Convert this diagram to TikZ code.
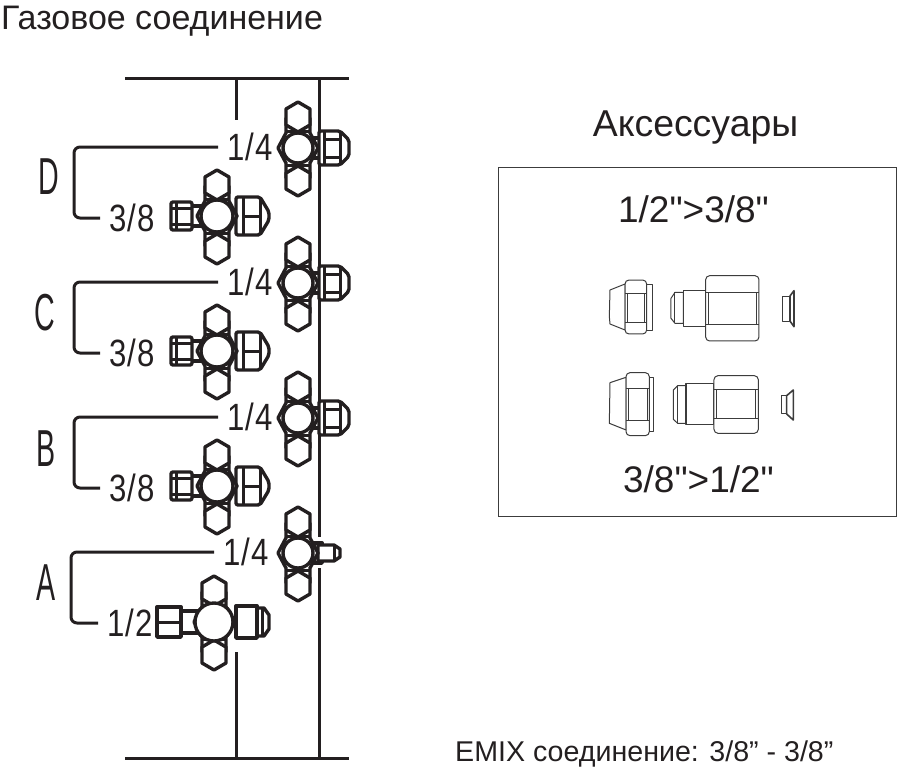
\documentclass[tikz,border=0pt]{standalone}
\usepackage{fontspec}
\setmainfont{Liberation Sans}
\newfontfamily\rawfont{Liberation Sans}
\newfontfamily\cadfont[FakeStretch=0.82,LetterSpace=3]{Liberation Sans}
\newfontfamily\cadtall[FakeStretch=0.55]{Liberation Sans}
\usetikzlibrary{shapes.geometric, positioning}
\definecolor{pipeBlack}{RGB}{35,31,32}
\definecolor{partGray}{RGB}{60,60,60}

\tikzset{
  pipe/.style={draw=pipeBlack, line width=3pt},
  part/.style={draw=pipeBlack, line width=3.4pt, fill=white, line join=round},
  partline/.style={draw=pipeBlack, line width=3pt},
  thinpart/.style={draw=partGray, line width=1pt, fill=white, line join=round},
  thinline/.style={draw=partGray, line width=1pt},
  sizelabel/.style={font=\cadfont\fontsize{38}{40}\selectfont, text=pipeBlack, inner sep=9pt, outer sep=0pt},
  portlabel/.style={font=\cadtall\fontsize{52}{54}\selectfont, text=pipeBlack, inner sep=0pt},
  heading/.style={text=pipeBlack, inner sep=0pt, anchor=base},
  pics/hexcap/.style={code={
    \draw[part] (0,-15) -- (12,-8) -- (12,8) -- (0,15) -- (-12,8) -- (-12,-8) -- cycle;
  }},
  pics/valvecross/.style={code={
    \draw[part] (-20,0) -- (-12,-15) -- (-12,-30) -- (12,-30) -- (12,-15) -- (20,0)
      -- (12,15) -- (12,30) -- (-12,30) -- (-12,15) -- cycle;
    \pic (-top) at (0,-31) {hexcap};
    \pic (-btm) at (0,33) {hexcap};
    \draw[partline] (-11,-17) -- (11,-17) (-11,17) -- (11,17);
    \draw[part] (0,0) circle (#1);
  }},
  pics/valvequarter/.style={code={
    \draw[part] (13,-10) rectangle (24,10);
    \draw[part, rounded corners=2pt] (21,-17) -- (42,-17) -- (51,-8) -- (51,8) -- (42,17) -- (21,17) -- cycle;
    \draw[partline] (26,-17) -- (26,17) (26,-9) -- (42,-9) (26,9) -- (42,9) (42,-17) -- (42,17);
    \pic (-x) {valvecross=15};
  }},
  pics/valvetip/.style={code={
    \draw[part] (14,-10) rectangle (24,10);
    \draw[part] (20,-8) -- (36,-8) -- (42,-4) -- (42,4) -- (36,8) -- (20,8) -- cycle;
    \draw[partline] (36,-8) -- (36,8);
    \pic (-x) {valvecross=15};
  }},
  pics/valveeighth/.style={code={
    \draw[part] (-28,-10) rectangle (-12,10);
    \draw[part, rounded corners=2pt] (-46,-14) rectangle (-25,14);
    \draw[partline] (-46,-8) -- (-25,-8) (-46,8) -- (-25,8) (-41,-14) -- (-41,14);
    \draw[part, rounded corners=2pt] (19,-19) -- (43,-19) -- (52,-4) -- (52,4) -- (43,19) -- (19,19) -- cycle;
    \draw[partline] (26,-19) -- (26,19) (26,0) -- (43,0) (43,-19) -- (43,19);
    \pic (-x) {valvecross=16};
  }},
  pics/valvehalf/.style={code={
    \draw[part] (-35,-11) rectangle (-12,11);
    \draw[part] (-57,-15) rectangle (-33,15);
    \draw[partline] (-57,0) -- (-33,0);
    \draw[part] (40,-14) -- (50,-14) -- (55,-7) -- (55,7) -- (50,14) -- (40,14) -- cycle;
    \draw[partline] (48,-14) -- (48,14);
    \draw[part] (22,-16) rectangle (43,16);
    \pic (-x) {valvecross=19};
  }},
}

\begin{document}
\begin{tikzpicture}[x=1pt, y=-1pt]
  \useasboundingbox (0,0) rectangle (897,769);

  % header rails
  \coordinate (topL) at (125,78);
  \coordinate (topR) at (349,78);
  \coordinate (botL) at (125,758);
  \coordinate (botR) at (349,758);
  \coordinate (railT) at (319,78);
  \coordinate (railB) at (319,758);
  \coordinate (railGapT) at (319,537);
  \coordinate (railGapB) at (319,568);
  \coordinate (stubT) at (236,78);
  \coordinate (stubTe) at (236,120);
  \coordinate (stubB) at (236,758);
  \coordinate (stubBe) at (236,652);
  \draw[pipe] (topL) -- (topR);
  \draw[pipe] (botL) -- (botR);
  \draw[pipe] (railT) -- (railGapT);
  \draw[pipe] (railGapB) -- (railB);
  \draw[pipe] (stubT) -- (stubTe);

  % valves
  \pic (qD) at (298,148) {valvequarter};
  \pic (eD) at (217,216) {valveeighth};
  \pic (qC) at (298,283) {valvequarter};
  \pic (eC) at (217,351) {valveeighth};
  \pic (qB) at (298,418) {valvequarter};
  \pic (eB) at (217,486) {valveeighth};
  \pic (qA) at (298,553) {valvetip};
  \pic (hA) at (214,622) {valvehalf};
  \draw[pipe] (stubB) -- (stubBe);

  % size labels
  \node[sizelabel] (sizeD14) at (250,147) {1/4};
  \node[sizelabel] (sizeD38) at (132,218) {3/8};
  \node[sizelabel] (sizeC14) at (250,282) {1/4};
  \node[sizelabel] (sizeC38) at (132,353) {3/8};
  \node[sizelabel] (sizeB14) at (250,417) {1/4};
  \node[sizelabel] (sizeB38) at (132,488) {3/8};
  \node[sizelabel] (sizeA14) at (246,552) {1/4};
  \node[sizelabel] (sizeA12) at (130,623) {1/2};

  % port letters
  \node[portlabel] (portD) at (49,177) {D};
  \node[portlabel] (portC) at (45,313) {C};
  \node[portlabel] (portB) at (46,449) {B};
  \node[portlabel] (portA) at (46,583) {A};

  % brackets
  \coordinate (brD) at (74,180);
  \coordinate (brC) at (74,315);
  \coordinate (brB) at (74,450);
  \coordinate (brA) at (71,585);
  \draw[pipe, rounded corners=6pt] (sizeD14.west) -| (brD) |- (sizeD38.west);
  \draw[pipe, rounded corners=6pt] (sizeC14.west) -| (brC) |- (sizeC38.west);
  \draw[pipe, rounded corners=6pt] (sizeB14.west) -| (brB) |- (sizeB38.west);
  \draw[pipe, rounded corners=6pt] (sizeA14.west) -| (brA) |- (sizeA12.west);

  % texts
  \node[heading, anchor=base west, font=\fontsize{34}{36}\selectfont] (title) at (1,29) {Газовое соединение};
  \node[heading, font=\fontsize{37.4}{40}\selectfont] (acc) at (695.5,136) {Аксессуары};
  \node[draw=partGray, line width=0.8pt, minimum width=398pt, minimum height=349pt, anchor=north west, inner sep=0pt] (accbox) at (498,167) {};
  \node[heading, font=\rawfont\fontsize{37}{40}\selectfont] (upsize) at (693.5,222) {1/2">3/8"};
  \node[heading, font=\rawfont\fontsize{37}{40}\selectfont] (downsize) at (698.5,492) {3/8">1/2"};
  \node[heading, anchor=base west, font=\fontsize{28.6}{30}\selectfont] (emix) at (455,761) {EMIX соединение: 3/8” - 3/8”};

  % upper adapter set
  \begin{scope}[shift={(590,260)}, x=0.3333pt, y=-0.3333pt]
    \draw[thinpart] (105,72) -- (60,90) -- (58,170) -- (60,192) -- (105,210) -- cycle;
    \draw[thinpart] (170,72) rectangle (188,212);
    \draw[thinpart, rounded corners=4pt] (105,60) rectangle (170,222);
    \draw[thinline] (105,100) -- (170,100) (105,187) -- (170,187) (112,100) -- (112,187) (163,100) -- (163,187);
    \draw[thinpart] (280,97) -- (255,97) -- (243,115) -- (243,175) -- (255,190) -- (280,190) -- cycle;
    \draw[thinline] (255,97) -- (255,190);
    \draw[thinpart, line width=1.6pt] (280,92) rectangle (347,200);
    \draw[thinpart, rounded corners=4pt] (347,47) rectangle (507,243);
    \draw[thinline] (347,97) -- (507,97) (347,193) -- (507,193) (355,97) -- (355,193) (500,97) -- (500,193);
    \draw[thinpart] (577,108) rectangle (600,183);
    \draw[thinpart, line width=1.6pt] (600,108) -- (612,92) -- (612,200) -- (600,183) -- cycle;
  \end{scope}

  % lower adapter set
  \begin{scope}[shift={(590,260)}, x=0.3333pt, y=-0.3333pt]
    \draw[thinpart] (108,352) -- (60,368) -- (58,490) -- (108,510) -- cycle;
    \draw[thinpart] (178,352) rectangle (190,515);
    \draw[thinpart, rounded corners=4pt] (108,338) rectangle (178,527);
    \draw[thinline] (108,387) -- (178,387) (108,483) -- (178,483) (115,387) -- (115,483) (171,387) -- (171,483);
    \draw[thinpart] (288,377) -- (263,377) -- (250,390) -- (250,478) -- (263,490) -- (288,490) -- cycle;
    \draw[thinline] (263,377) -- (263,490);
    \draw[thinpart, line width=1.6pt] (288,370) rectangle (372,493);
    \draw[thinpart, rounded corners=4pt] (372,347) rectangle (505,520);
    \draw[thinline] (372,388) -- (505,388) (372,477) -- (505,477) (380,388) -- (380,477) (498,388) -- (498,477);
    \draw[thinpart] (575,407) rectangle (590,462);
    \draw[thinpart, line width=1.6pt] (590,407) -- (610,390) -- (610,480) -- (590,462) -- cycle;
  \end{scope}
\end{tikzpicture}
\end{document}
